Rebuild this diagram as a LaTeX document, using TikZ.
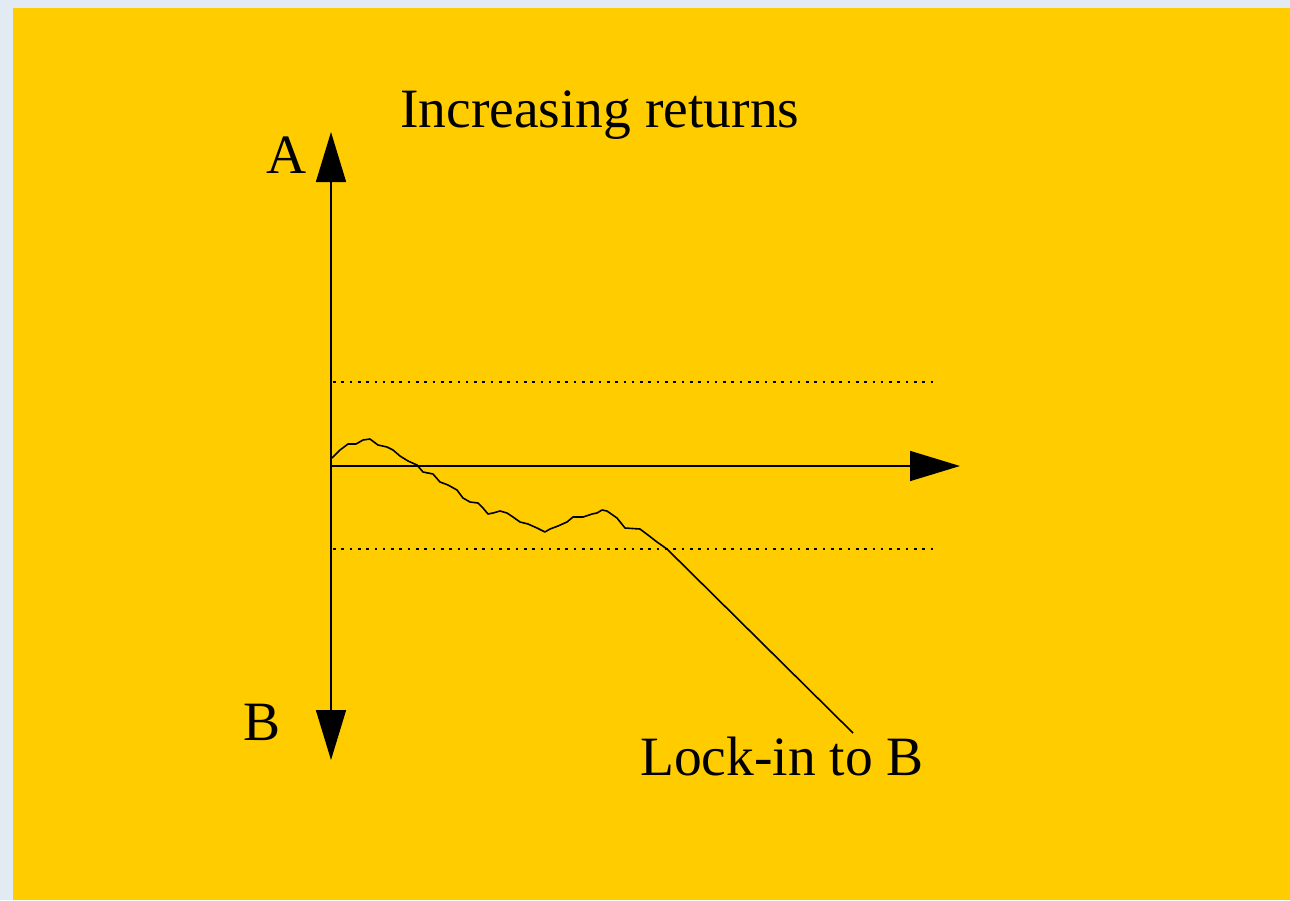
\documentclass[tikz,border=0pt]{standalone}
\usepackage{fontspec}
\setmainfont{Liberation Serif}
\usetikzlibrary{arrows.meta}
\definecolor{bgblue}{HTML}{E2EAF4}
\definecolor{gold}{HTML}{FFCC00}
\begin{document}
\begin{tikzpicture}[x=1pt,y=-1pt,
  axis/.style={line width=1.6pt,-{Triangle[length=50pt,width=30pt]}},
  guide/.style={line width=2.6pt,dash pattern=on 2.6pt off 5.7pt},
  walk/.style={line width=1.6pt,line join=round},
  lbl/.style={font=\fontsize{55.5}{60}\selectfont,inner sep=0pt}]
\fill[bgblue] (0,0) rectangle (1290,900);
\fill[gold] (13,8) rectangle (1290,900);
\useasboundingbox (0,0) rectangle (1290,900);
\coordinate (O) at (331,466);
\coordinate (Atip) at (331,132);
\coordinate (Btip) at (331,760);
\coordinate (Xtip) at (960,466);
\draw[axis] (O) -- (Atip);
\draw[axis] (O) -- (Btip);
\draw[axis] (O) -- (Xtip);
\coordinate (d1s) at (333,382); \coordinate (d1e) at (936,382);
\coordinate (d2s) at (333,549); \coordinate (d2e) at (936,549);
\draw[guide] (d1s) -- (d1e);
\draw[guide] (d2s) -- (d2e);
\coordinate (ws) at (332,458);
\coordinate (we) at (853,733);
\draw[walk] (ws) -- (340,450) -- (348,444) -- (356,444) -- (363,440) -- (370,439) -- (378,445) -- (387,447) -- (393,450) -- (400,456) -- (408,461) -- (417,465) -- (423,472) -- (433,474) -- (440,482) -- (448,485) -- (457,490) -- (463,498) -- (470,502) -- (478,503) -- (483,508) -- (488,514) -- (493,513) -- (500,511) -- (507,513) -- (513,517) -- (520,522) -- (528,524) -- (537,528) -- (545,532) -- (550,529) -- (558,526) -- (567,522) -- (573,517) -- (583,517) -- (592,514) -- (597,513) -- (602,510) -- (607,511) -- (617,518) -- (625,528) -- (640,529) -- (648,535) -- (657,542) -- (667,549) -- (we);
\node[lbl,anchor=base west] (title) at (400,127) {Increasing returns};
\node[lbl,anchor=base west] (lock) at (640,775) {Lock-in to B};
\node[lbl,anchor=base west] (A) at (266,173) {A};
\node[lbl,anchor=base west] (B) at (243,740) {B};
\end{tikzpicture}
\end{document}
